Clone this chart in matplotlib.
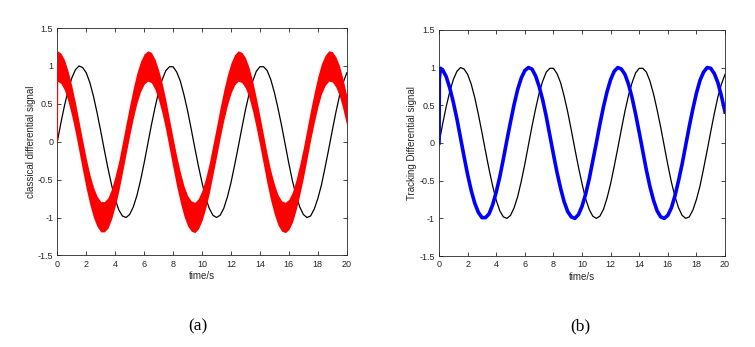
import matplotlib
matplotlib.use("Agg")
from matplotlib import pyplot as plt

"""
Classical differentiator vs tracking differentiator, reference sin(t).
Values read off the original figure, sampled every 0.25 s.
"""

time_s = [0.0, 0.25, 0.5, 0.75, 1.0, 1.25, 1.5, 1.75, 2.0, 2.25, 2.5, 2.75,
          3.0, 3.25, 3.5, 3.75, 4.0, 4.25, 4.5, 4.75, 5.0, 5.25, 5.5, 5.75,
          6.0, 6.25, 6.5, 6.75, 7.0, 7.25, 7.5, 7.75, 8.0, 8.25, 8.5, 8.75,
          9.0, 9.25, 9.5, 9.75, 10.0, 10.25, 10.5, 10.75, 11.0, 11.25, 11.5, 11.75,
          12.0, 12.25, 12.5, 12.75, 13.0, 13.25, 13.5, 13.75, 14.0, 14.25, 14.5, 14.75,
          15.0, 15.25, 15.5, 15.75, 16.0, 16.25, 16.5, 16.75, 17.0, 17.25, 17.5, 17.75,
          18.0, 18.25, 18.5, 18.75, 19.0, 19.25, 19.5, 19.75, 20.0]

# reference signal (thin black line)
reference = [0.0, 0.25, 0.48, 0.68, 0.84, 0.95, 1.0, 0.98, 0.91, 0.78, 0.6, 0.38,
             0.14, -0.11, -0.35, -0.57, -0.76, -0.9, -0.98, -1.0, -0.96, -0.86, -0.71, -0.51,
             -0.28, -0.03, 0.22, 0.45, 0.66, 0.82, 0.94, 0.99, 0.99, 0.92, 0.8, 0.62,
             0.41, 0.17, -0.08, -0.32, -0.54, -0.74, -0.88, -0.97, -1.0, -0.97, -0.88, -0.73,
             -0.54, -0.31, -0.07, 0.18, 0.42, 0.63, 0.8, 0.93, 0.99, 0.99, 0.94, 0.82,
             0.65, 0.44, 0.21, -0.04, -0.29, -0.52, -0.71, -0.86, -0.96, -1.0, -0.98, -0.89,
             -0.75, -0.57, -0.34, -0.1, 0.15, 0.39, 0.61, 0.78, 0.91]

# derivative estimate (centre of the red band / blue line), after the start-up jump
derivative = [1.0, 0.97, 0.88, 0.73, 0.54, 0.32, 0.07, -0.18, -0.42, -0.63, -0.8, -0.92,
              -0.99, -0.99, -0.94, -0.82, -0.65, -0.45, -0.21, 0.04, 0.28, 0.51, 0.71, 0.86,
              0.96, 1.0, 0.98, 0.89, 0.75, 0.57, 0.35, 0.1, -0.15, -0.39, -0.6, -0.78,
              -0.91, -0.98, -1.0, -0.95, -0.84, -0.68, -0.48, -0.24, 0.0, 0.25, 0.48, 0.68,
              0.84, 0.95, 1.0, 0.98, 0.91, 0.78, 0.6, 0.38, 0.14, -0.11, -0.36, -0.58,
              -0.76, -0.9, -0.98, -1.0, -0.96, -0.86, -0.7, -0.5, -0.28, -0.03, 0.22, 0.45,
              0.66, 0.83, 0.94, 1.0, 0.99, 0.92, 0.8, 0.62, 0.41]

# start-up: both differentiators begin at 0 and jump to ~1
start_t = [0.0, 0.02, 0.1]
start_red = [0.0, 1.0, 0.99]
start_blue = [0.0, 0.85, 0.99]

noise_halfwidth = 0.2  # thickness of the noisy red band

xticks = [0, 2, 4, 6, 8, 10, 12, 14, 16, 18, 20]
yticks = [-1.5, -1, -0.5, 0, 0.5, 1, 1.5]
ytick_labels = ['-1.5', '-1', '-0.5', '0', '0.5', '1', '1.5']

plt.rcParams['font.family'] = ['Liberation Sans', 'DejaVu Sans']

fig = plt.figure(figsize=(7.55, 3.47), dpi=100)
ax_a = fig.add_axes([0.0759, 0.264, 0.3834, 0.655])
ax_b = fig.add_axes([0.5815, 0.262, 0.3788, 0.652])

grey = '#262626'


def style_axes(ax, ylabel):
    ax.set_xlim(0, 20)
    ax.set_ylim(-1.5, 1.5)
    ax.set_xticks(xticks)
    ax.set_yticks(yticks)
    ax.set_yticklabels(ytick_labels)
    ax.tick_params(direction='in', top=True, right=True, length=3, width=0.6,
                   labelsize=6.5, colors=grey, pad=3)
    for sp in ax.spines.values():
        sp.set_color(grey)
        sp.set_linewidth(0.6)
    ax.set_xlabel('time/s', fontsize=7, color=grey, labelpad=2)
    ax.set_ylabel(ylabel, fontsize=7, color=grey, labelpad=1.5)


# (a) classical differentiator, noisy
ax_a.plot(time_s, reference, color='k', lw=0.9)
lower = [v - noise_halfwidth for v in derivative]
upper = [v + noise_halfwidth for v in derivative]
ax_a.fill_between(time_s, lower, upper, color='#ff0000', lw=0, zorder=3)
ax_a.plot(start_t, start_red, color='#ff0000', lw=1.0, zorder=3)
style_axes(ax_a, 'classical differential signal')

# (b) tracking differentiator
ax_b.plot(time_s, reference, color='k', lw=0.9)
ax_b.plot(start_t + time_s[1:], start_blue + derivative[1:], color='#0000ff', lw=2.6)
style_axes(ax_b, 'Tracking Differential signal')

fig.text(0.262, 0.058, '(a)', family='Liberation Serif', fontsize=12.5,
         ha='center', va='center')
fig.text(0.768, 0.058, '(b)', family='Liberation Serif', fontsize=12.5,
         ha='center', va='center')

plt.savefig('out.png', dpi=100)
